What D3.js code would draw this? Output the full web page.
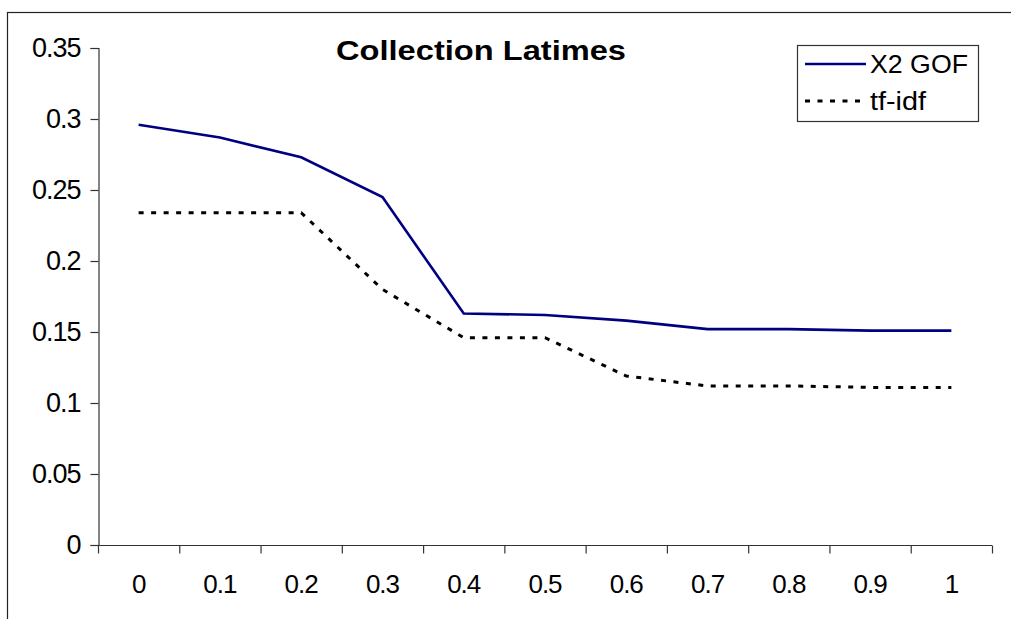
<!DOCTYPE html>
<html lang="en">
<head>
    <meta charset="UTF-8">
    <title>Collection Latimes</title>
    <script src="https://cdnjs.cloudflare.com/ajax/libs/d3/7.8.5/d3.min.js"></script>
    <style>
        body { margin: 0; background: #fff; }
        svg { display: block; font-family: "Liberation Sans", Arial, sans-serif; }
    </style>
</head>
<body>
    <svg width="1011" height="619"></svg>
    <script>
        "use strict";

        const categories = ["0", "0.1", "0.2", "0.3", "0.4", "0.5", "0.6", "0.7", "0.8", "0.9", "1"];
        const gofValues = [0.296, 0.287, 0.273, 0.245, 0.163, 0.162, 0.158, 0.152, 0.152, 0.151, 0.151];
        const tfidfValues = [0.234, 0.234, 0.234, 0.180, 0.146, 0.146, 0.119, 0.112, 0.112, 0.111, 0.111];
        const yTicks = [0, 0.05, 0.1, 0.15, 0.2, 0.25, 0.3, 0.35];

        const svg = d3.select("svg");

        // outer chart border (only left and top visible in the frame)
        svg.append("rect")
            .attr("x", 7.5).attr("y", 12.5)
            .attr("width", 1100).attr("height", 700)
            .attr("fill", "none").attr("stroke", "#222").attr("stroke-width", 1.2);

        const x = d3.scaleBand().domain(categories).range([98, 992]);
        const y = d3.scaleLinear().domain([0, 0.35]).range([545, 48]);

        // y axis
        const yAxis = svg.append("g")
            .attr("transform", "translate(98.5,0)")
            .call(d3.axisLeft(y).tickValues(yTicks).tickSize(8).tickPadding(10)
                .tickFormat(d => d3.format("~g")(d)));
        yAxis.select(".domain").attr("stroke", "#333").attr("stroke-width", 1.2);
        yAxis.selectAll(".tick line").attr("stroke", "#333").attr("stroke-width", 1.2);
        yAxis.selectAll("text").attr("font-size", 27).attr("fill", "#000")
            .attr("font-family", "Liberation Sans, Arial, sans-serif")
            .attr("letter-spacing", -1);

        // x axis: ticks at category boundaries, labels centred
        const xAxis = svg.append("g").attr("transform", "translate(0,545.5)");
        xAxis.append("line")
            .attr("x1", 98).attr("x2", 992)
            .attr("stroke", "#333").attr("stroke-width", 1.2);
        const bounds = categories.map(c => x(c)).concat([x.range()[1]]);
        xAxis.selectAll("line.tk").data(bounds).enter().append("line")
            .attr("class", "tk")
            .attr("x1", d => d + 0.5).attr("x2", d => d + 0.5)
            .attr("y1", 0).attr("y2", 8)
            .attr("stroke", "#333").attr("stroke-width", 1.2);
        xAxis.selectAll("text").data(categories).enter().append("text")
            .attr("x", d => x(d) + x.bandwidth() / 2)
            .attr("y", 47)
            .attr("text-anchor", "middle")
            .attr("font-size", 26)
            .attr("letter-spacing", -1)
            .text(d => d);

        // series
        const line = d3.line()
            .x((d, i) => x(categories[i]) + x.bandwidth() / 2)
            .y(d => y(d));

        svg.append("path")
            .datum(tfidfValues)
            .attr("d", line)
            .attr("fill", "none")
            .attr("stroke", "#000")
            .attr("stroke-width", 3)
            .attr("stroke-dasharray", "5,7.5");

        svg.append("path")
            .datum(gofValues)
            .attr("d", line)
            .attr("fill", "none")
            .attr("stroke", "#000080")
            .attr("stroke-width", 2.6);

        // title
        svg.append("text")
            .attr("x", 481).attr("y", 60)
            .attr("text-anchor", "middle")
            .attr("font-size", 27)
            .attr("font-weight", "bold")
            .attr("textLength", 290)
            .attr("lengthAdjust", "spacingAndGlyphs")
            .text("Collection Latimes");

        // legend
        const legend = svg.append("g");
        legend.append("rect")
            .attr("x", 797.5).attr("y", 45.5)
            .attr("width", 181).attr("height", 76)
            .attr("fill", "#fff").attr("stroke", "#333").attr("stroke-width", 1.2);
        const legendItems = [
            { name: "X2 GOF", color: "#000080", dash: null, w: 2.6, tw: 98 },
            { name: "tf-idf", color: "#000", dash: "5,7.5", w: 3, tw: 56 },
        ];
        legendItems.forEach((d, i) => {
            const cy = 64 + i * 37;
            legend.append("line")
                .attr("x1", 805).attr("x2", 866)
                .attr("y1", cy).attr("y2", cy)
                .attr("stroke", d.color).attr("stroke-width", d.w)
                .attr("stroke-dasharray", d.dash);
            legend.append("text")
                .attr("x", 870).attr("y", cy + 9)
                .attr("font-size", 25)
                .attr("textLength", d.tw)
                .attr("lengthAdjust", "spacingAndGlyphs")
                .text(d.name);
        });
    </script>
</body>
</html>
